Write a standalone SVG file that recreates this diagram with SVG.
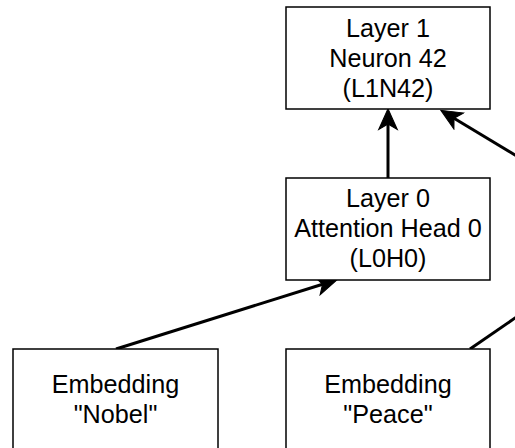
<svg xmlns="http://www.w3.org/2000/svg" width="515" height="448" viewBox="0 0 515 448">
<style>
.box{fill:#fff;stroke:#000;stroke-width:1.5}
.lbl{font-family:"Liberation Sans",Arial,Helvetica,sans-serif;font-size:25.2px;fill:#000;text-anchor:middle}
.edge{fill:none;stroke:#000;stroke-width:3}
</style>
<defs>
<marker id="arr" markerUnits="userSpaceOnUse" markerWidth="24" markerHeight="24" viewBox="-1 -10 22 20" refX="5" refY="0" orient="auto">
<path d="M0,-8.5 L19,0 L0,8.5 L5,0 Z" fill="#000" stroke="#000" stroke-width="1"/>
</marker>
</defs>
<rect width="515" height="448" fill="#fff"/>
<g id="connectors">
<line class="edge" x1="388" y1="178" x2="388" y2="124" marker-end="url(#arr)"/>
<line class="edge" x1="116" y1="349" x2="322.6" y2="284.2" marker-end="url(#arr)"/>
<line class="edge" x1="530" y1="164" x2="454" y2="118.2" marker-end="url(#arr)"/>
<line class="edge" x1="470" y1="349" x2="530" y2="307.7"/>
</g>
<g id="L1N42">
<rect class="box" x="286" y="7" width="204" height="102"/>
<text class="lbl" x="388" y="37">Layer 1</text>
<text class="lbl" x="388" y="67">Neuron 42</text>
<text class="lbl" x="388" y="97">(L1N42)</text>
</g>
<g id="L0H0">
<rect class="box" x="286" y="178" width="204" height="102"/>
<text class="lbl" x="388" y="207">Layer 0</text>
<text class="lbl" x="388" y="237">Attention Head 0</text>
<text class="lbl" x="388" y="267">(L0H0)</text>
</g>
<g id="emb-nobel">
<rect class="box" x="13" y="349" width="205" height="102"/>
<text class="lbl" x="115.5" y="393">Embedding</text>
<text class="lbl" x="115.5" y="423">"Nobel"</text>
</g>
<g id="emb-peace">
<rect class="box" x="286" y="349" width="204" height="102"/>
<text class="lbl" x="388" y="393">Embedding</text>
<text class="lbl" x="388" y="423">"Peace"</text>
</g>
</svg>
